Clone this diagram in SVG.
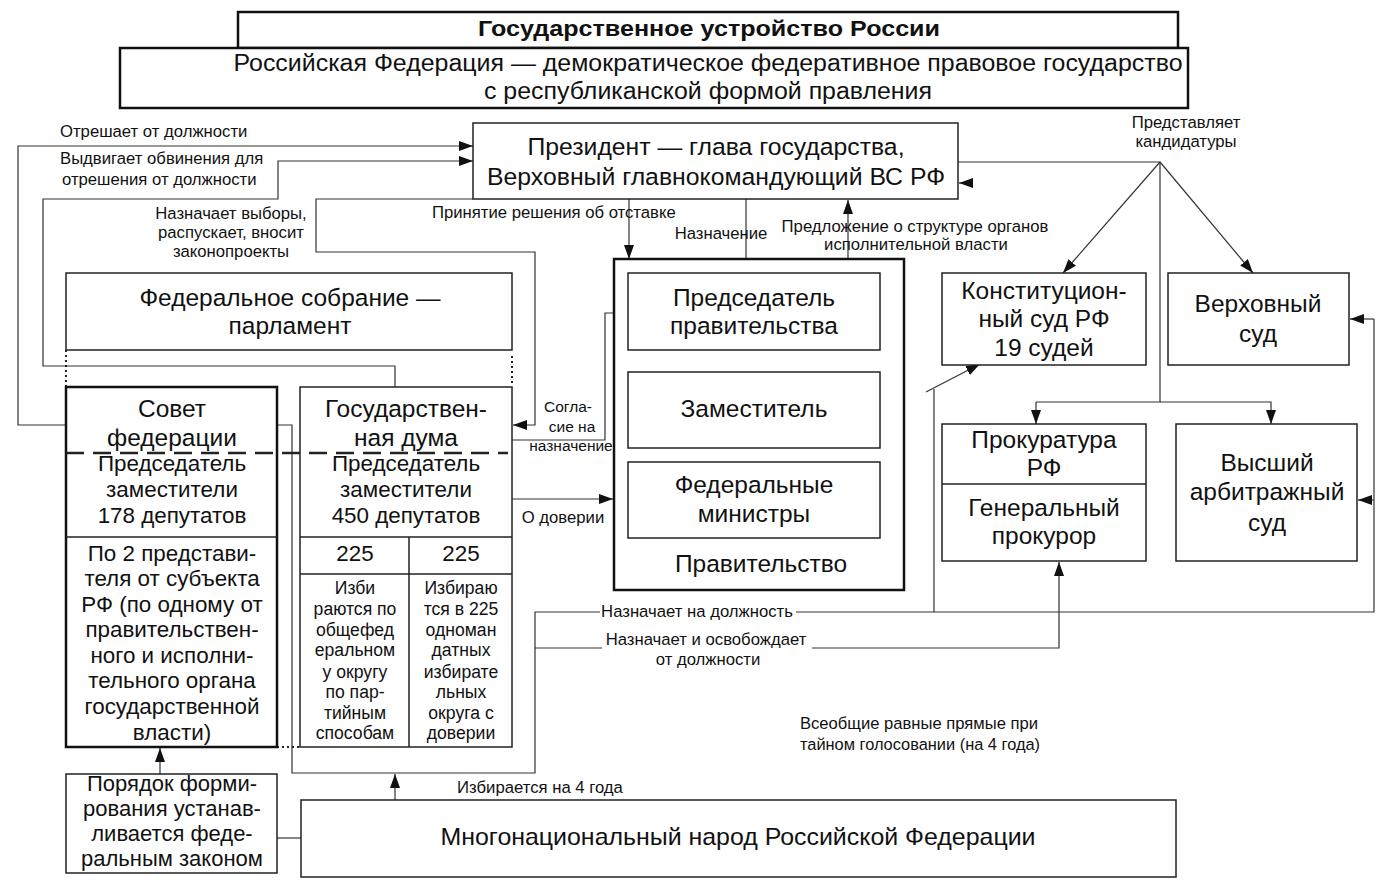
<svg xmlns="http://www.w3.org/2000/svg" width="1378" height="880" viewBox="0 0 1378 880">
<defs>
<marker id="arr" markerUnits="userSpaceOnUse" markerWidth="14" markerHeight="10" refX="14" refY="5" orient="auto"><path d="M0,0 L14,5 L0,10 z" fill="#111"/></marker>
<style>
.box{fill:#fff;stroke:#222;stroke-width:1.5}
.bold{stroke-width:2.5;stroke:#111}
.t{font-family:"Liberation Sans",Arial,sans-serif;fill:#111;text-anchor:middle}
.s22{font-size:22px}
.s24{font-size:24.5px}
.s20{font-size:22.4px}
.s19{font-size:22px}
.s16{font-size:17.6px}
.lbl{font-size:16.7px}
.s14{font-size:15.5px}
.st{text-anchor:start}
.conn{fill:none;stroke:#333;stroke-width:1.2}
.arr{marker-end:url(#arr)}
.dot{fill:none;stroke:#222;stroke-width:2;stroke-dasharray:2 3}
.dash{fill:none;stroke:#222;stroke-width:2.5;stroke-dasharray:18 9}
.line{fill:none;stroke:#222;stroke-width:1.5}
</style>
</defs>
<rect width="1378" height="880" fill="#fff"/>

<g id="connectors">
<path class="conn arr" d="M66,425 H18 V146 H473"/>
<path class="conn arr" d="M395,387 V366 H43 V199 H278 V161 H473"/>
<path class="conn arr" d="M473,199 H316 V252 H535 V425 H513"/>
<path class="conn arr" d="M629,199 V259"/>
<path class="conn arr" d="M746,199 V273"/>
<path class="conn arr" d="M848,273 V200"/>
<path class="conn arr" d="M512,440 H605 V313 H628"/>
<path class="conn arr" d="M512,499 H613"/>
<path class="conn" d="M958,162 H1160 V402 H1036"/>
<path class="conn arr" d="M1036,402 V424"/>
<path class="conn arr" d="M1160,402 H1271 V424"/>
<path class="conn arr" d="M1160,162 L1063,273"/>
<path class="conn arr" d="M1160,162 L1253,273"/>
<path class="conn arr" d="M973,183 H959"/>
<path class="conn" d="M277,425 H292 V773 H535 V612 H1374 V319"/>
<path class="conn arr" d="M1374,319 H1350"/>
<path class="conn arr" d="M1374,500 H1358"/>
<path class="conn" d="M934,612 V389"/>
<path class="conn arr" d="M926,392 L980,364"/>
<path class="conn arr" d="M535,648 H1059 V562"/>
<path class="conn arr" d="M395,800 V774"/>
<path class="conn arr" d="M160,774 V748"/>
<path class="conn" d="M277,838 H301"/>
<path class="dot" d="M66,350 V387"/>
<path class="dot" d="M512,356 V386"/>
<path class="dot" d="M277,747 H300"/>
</g>

<g id="title">
<rect class="box bold" x="238" y="12" width="940" height="36"/>
<text class="t" x="709" y="36" font-size="22" font-weight="bold" textLength="462" lengthAdjust="spacingAndGlyphs">Государственное устройство России</text>
</g>

<g id="russia">
<rect class="box bold" x="120" y="48" width="1068" height="60"/>
<text class="t" x="708" y="71" font-size="23" textLength="949" lengthAdjust="spacingAndGlyphs">Российская Федерация — демократическое федеративное правовое государство</text>
<text class="t" x="708" y="99" font-size="23" textLength="448" lengthAdjust="spacingAndGlyphs">с республиканской формой правления</text>
</g>

<g id="president">
<rect class="box" x="473" y="123" width="485" height="76"/>
<text class="t s24" x="716" y="155" textLength="377" lengthAdjust="spacingAndGlyphs">Президент — глава государства,</text>
<text class="t s24" x="716" y="185" textLength="458" lengthAdjust="spacingAndGlyphs">Верховный главнокомандующий ВС РФ</text>
</g>

<g id="fed-assembly">
<rect class="box" x="66" y="273" width="446" height="77"/>
<text class="t s24" x="290" y="306">Федеральное собрание —</text>
<text class="t s24" x="290" y="334">парламент</text>
</g>

<g id="sovet">
<rect class="box bold" x="66" y="387" width="211" height="360"/>
<path class="line" d="M66,537 H277"/>
<text class="t s24" x="172" y="417">Совет</text>
<text class="t s24" x="172" y="446">федерации</text>
<text class="t s20" x="172" y="471">Председатель</text>
<text class="t s20" x="172" y="497">заместители</text>
<text class="t s20" x="172" y="523">178 депутатов</text>
<text class="t s20" x="172" y="561">По 2 представи-</text>
<text class="t s20" x="172" y="586">теля от субъекта</text>
<text class="t s20" x="172" y="612">РФ (по одному от</text>
<text class="t s20" x="172" y="637">правительствен-</text>
<text class="t s20" x="172" y="663">ного и исполни-</text>
<text class="t s20" x="172" y="688">тельного органа</text>
<text class="t s20" x="172" y="714">государственной</text>
<text class="t s20" x="172" y="740">власти)</text>
</g>

<g id="duma">
<rect class="box" x="300" y="387" width="212" height="360"/>
<path class="line" d="M300,537 H512 M300,574 H512 M409,537 V747"/>
<text class="t s24" x="406" y="417">Государствен-</text>
<text class="t s24" x="406" y="446">ная дума</text>
<text class="t s20" x="406" y="471">Председатель</text>
<text class="t s20" x="406" y="497">заместители</text>
<text class="t s20" x="406" y="523">450 депутатов</text>
<text class="t s20" x="355" y="561">225</text>
<text class="t s20" x="461" y="561">225</text>
<text class="t s16" x="355" y="594">Изби</text>
<text class="t s16" x="355" y="615">раются по</text>
<text class="t s16" x="355" y="636">общефед</text>
<text class="t s16" x="355" y="656">еральном</text>
<text class="t s16" x="355" y="678">у округу</text>
<text class="t s16" x="355" y="698">по пар-</text>
<text class="t s16" x="355" y="719">тийным</text>
<text class="t s16" x="355" y="739">способам</text>
<text class="t s16" x="461" y="594">Избираю</text>
<text class="t s16" x="461" y="615">тся в 225</text>
<text class="t s16" x="461" y="636">одноман</text>
<text class="t s16" x="461" y="656">датных</text>
<text class="t s16" x="461" y="678">избирате</text>
<text class="t s16" x="461" y="698">льных</text>
<text class="t s16" x="461" y="719">округа с</text>
<text class="t s16" x="461" y="739">доверии</text>
</g>
<path id="chamber-divider" class="dash" d="M66,453 H508"/>

<g id="government">
<rect class="box bold" x="614" y="259" width="290" height="331"/>
<text class="t s24" x="761" y="572">Правительство</text>
</g>
<g id="chairman">
<rect class="box" x="628" y="273" width="252" height="77"/>
<text class="t s24" x="754" y="306">Председатель</text>
<text class="t s24" x="754" y="334">правительства</text>
</g>
<g id="deputy">
<rect class="box" x="628" y="372" width="252" height="76"/>
<text class="t s24" x="754" y="417">Заместитель</text>
</g>
<g id="ministers">
<rect class="box" x="628" y="462" width="252" height="76"/>
<text class="t s24" x="754" y="493">Федеральные</text>
<text class="t s24" x="754" y="522">министры</text>
</g>

<g id="const-court">
<rect class="box" x="942" y="273" width="204" height="92"/>
<text class="t s24" x="1044" y="299">Конституцион-</text>
<text class="t s24" x="1044" y="327">ный суд РФ</text>
<text class="t s24" x="1044" y="356">19 судей</text>
</g>
<g id="supreme-court">
<rect class="box" x="1168" y="273" width="181" height="92"/>
<text class="t s24" x="1258" y="312">Верховный</text>
<text class="t s24" x="1258" y="342">суд</text>
</g>
<g id="prosecutor">
<rect class="box" x="942" y="424" width="204" height="137"/>
<path class="line" d="M942,484 H1146"/>
<text class="t s24" x="1044" y="448">Прокуратура</text>
<text class="t s24" x="1044" y="476">РФ</text>
<text class="t s24" x="1044" y="516">Генеральный</text>
<text class="t s24" x="1044" y="544">прокурор</text>
</g>
<g id="arbitration-court">
<rect class="box" x="1176" y="424" width="181" height="137"/>
<text class="t s24" x="1267" y="471">Высший</text>
<text class="t s24" x="1267" y="500">арбитражный</text>
<text class="t s24" x="1267" y="531">суд</text>
</g>

<g id="order">
<rect class="box" x="66" y="774" width="211" height="99"/>
<text class="t s19" x="172" y="791">Порядок форми-</text>
<text class="t s19" x="172" y="816">рования устанав-</text>
<text class="t s19" x="172" y="841">ливается феде-</text>
<text class="t s19" x="172" y="866">ральным законом</text>
</g>

<g id="people">
<rect class="box" x="301" y="800" width="875" height="77"/>
<text class="t" x="738" y="845" font-size="24" textLength="595" lengthAdjust="spacingAndGlyphs">Многонациональный народ Российской Федерации</text>
</g>

<g id="labels">
<text class="t lbl st" x="60" y="137">Отрешает от должности</text>
<text class="t lbl st" x="60" y="164">Выдвигает обвинения для</text>
<text class="t lbl st" x="62" y="185">отрешения от должности</text>
<text class="t lbl" x="231" y="219">Назначает выборы,</text>
<text class="t lbl" x="231" y="238">распускает, вносит</text>
<text class="t lbl" x="231" y="257">законопроекты</text>
<text class="t lbl st" x="432" y="218">Принятие решения об отставке</text>
<text class="t lbl" x="721" y="239">Назначение</text>
<text class="t lbl" x="915" y="232">Предложение о структуре органов</text>
<text class="t lbl" x="916" y="250">исполнительной власти</text>
<text class="t lbl" x="1186" y="128">Представляет</text>
<text class="t lbl" x="1186" y="147">кандидатуры</text>
<text class="t s14" x="568" y="412">Согла-</text>
<text class="t s14" x="572" y="432">сие на</text>
<text class="t s14" x="571" y="451">назначение</text>
<text class="t lbl" x="563" y="523">О доверии</text>
<rect x="600" y="603" width="196" height="17" fill="#fff"/>
<text class="t lbl" x="697" y="617">Назначает на должность</text>
<rect x="602" y="631" width="210" height="19" fill="#fff"/>
<text class="t lbl" x="706" y="645">Назначает и освобождает</text>
<text class="t lbl" x="708" y="665">от должности</text>
<text class="t lbl" x="919" y="729" textLength="238" lengthAdjust="spacingAndGlyphs">Всеобщие равные прямые при</text>
<text class="t lbl" x="920" y="750" textLength="240" lengthAdjust="spacingAndGlyphs">тайном голосовании (на 4 года)</text>
<text class="t lbl" x="540" y="793">Избирается на 4 года</text>
</g>
</svg>
